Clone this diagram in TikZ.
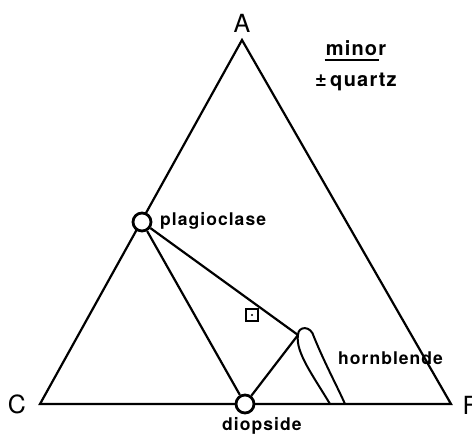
\documentclass[tikz,border=0pt]{standalone}
\usepackage{fontspec}
\setmainfont{TeX Gyre Heros}
\newfontfamily\lblfont[LetterSpace=6]{TeX Gyre Heros}
\begin{document}
\begin{tikzpicture}[x=1pt,y=-1pt,
  edge/.style={line width=2.2pt, line join=miter},
  phase/.style={circle, draw, line width=2.8pt, fill=white, minimum size=18pt, inner sep=0pt},
  corner/.style={font=\fontsize{25}{27}\selectfont},
  lbl/.style={font=\lblfont\bfseries\fontsize{17.5}{20}\selectfont, inner sep=0pt},
  note/.style={font=\lblfont\bfseries\fontsize{20}{22}\selectfont, inner sep=0pt}]
\useasboundingbox (0,0) rectangle (472,439);
\coordinate (A) at (242,40);
\coordinate (C) at (40,404);
\coordinate (F) at (451,404);
\coordinate (hbtop) at (298,335);
\coordinate (hbL) at (330,404);
\coordinate (hbR) at (345,404);
\draw[edge] (A) -- (C) -- (F) -- cycle;
\node[phase] (plag) at (142,222) {};
\node[phase] (diop) at (245,404) {};
\draw[edge] (plag) -- (diop);
\draw[edge] (plag) -- (hbtop);
\draw[edge] (diop) -- (hbtop);
\draw[edge, line width=2pt] (hbL) .. controls (314,377) and (295,352) .. (hbtop)
  .. controls (298,326) and (311,325) .. (314,337)
  .. controls (325,364) and (338,388) .. (hbR);
\node[draw, line width=2pt, minimum size=12pt, inner sep=0pt] (sq) at (252,315) {};
\fill (sq.center) circle (1.2pt);
\node[corner] (lA) at (242,23) {A};
\node[corner] (lC) at (17,404) {C};
\node[corner, anchor=west] (lF) at (459,405) {F};
\node[lbl, anchor=west] (lplag) at (160,221) {plagioclase};
\node[lbl, anchor=west] (lhb) at (338,358) {hornblende};
\node[lbl, anchor=west] (ldiop) at (222,426) {diopside};
\node[note] (lminor) at (356,48) {minor};
\draw[line width=1.8pt] ([yshift=5pt]lminor.south west) ++(-1,9) -- ++(54,0);
\node[note] (lqtz) at (356,82) {±\,quartz};
\end{tikzpicture}
\end{document}
